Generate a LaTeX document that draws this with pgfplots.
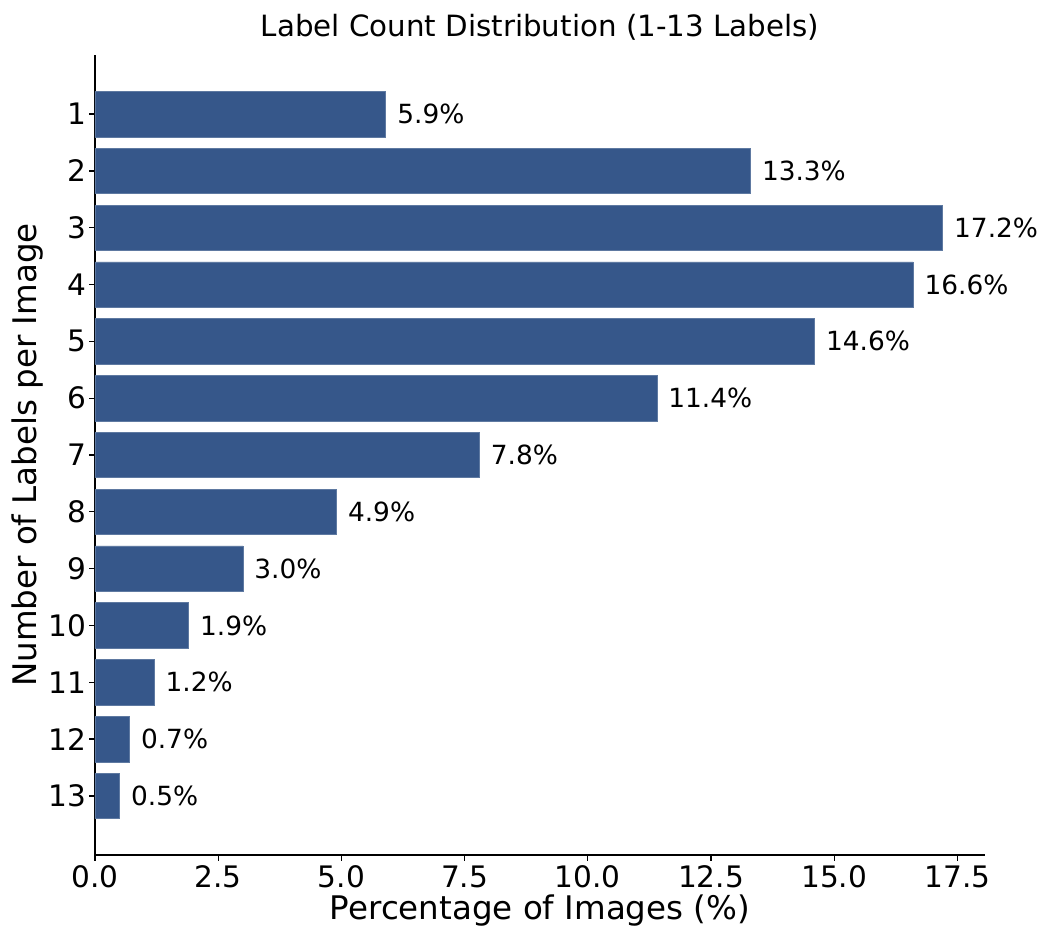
\documentclass[border=0pt]{standalone}
\usepackage{pgfplots}
\pgfplotsset{compat=1.18}
\usepackage{fontspec}
\setmainfont{DejaVu Sans}
\definecolor{barblue}{RGB}{54,87,138}
\begin{document}
\begin{tikzpicture}
\begin{axis}[
  name=ax,
  width=640.8pt, height=576pt, scale only axis,
  xbar, bar width=0.8,
  xmin=0, xmax=18.06, ymin=-0.04, ymax=14.04, y dir=reverse,
  axis x line*=bottom, axis y line*=left,
  axis line style={line width=0.9pt, -},
  tick style={line width=0.9pt, black},
  major tick length=4pt, tick align=outside,
  ytick={1,...,13}, xtick={0,2.5,...,17.5},
  /pgf/number format/assume math mode=true,
  x tick label style={/pgf/number format/fixed,/pgf/number format/fixed zerofill,/pgf/number format/precision=1},
  y tick label style={xshift=1pt},
  tick label style={font=\fontsize{21.3}{25}\selectfont},
  label style={font=\fontsize{23.4}{28}\selectfont},
  xlabel style={yshift=2pt},
  ylabel style={yshift=-3pt},
  title style={font=\fontsize{21.1}{25}\selectfont, yshift=1pt},
  title={Label Count Distribution (1-13 Labels)},
  xlabel={Percentage of Images (\%)},
  ylabel={Number of Labels per Image},
  point meta=x,
  nodes near coords={\pgfmathprintnumber[fixed,fixed zerofill,precision=1]{\pgfplotspointmeta}\%},
  nodes near coords align={horizontal},
  every node near coord/.append style={font=\fontsize{19}{23}\selectfont, anchor=west, xshift=4.8pt, black},
]
\addplot[fill=barblue, draw=barblue!80!white, line width=0.4pt] coordinates {
(5.9,1) (13.3,2) (17.2,3) (16.6,4) (14.6,5) (11.4,6) (7.8,7) (4.9,8) (3.0,9) (1.9,10) (1.2,11) (0.7,12) (0.5,13)
};
\end{axis}
\path ([xshift=-68.4pt,yshift=-62.64pt]ax.south west) rectangle ([xshift=44.64pt,yshift=39.6pt]ax.north east);
\end{tikzpicture}
\end{document}
